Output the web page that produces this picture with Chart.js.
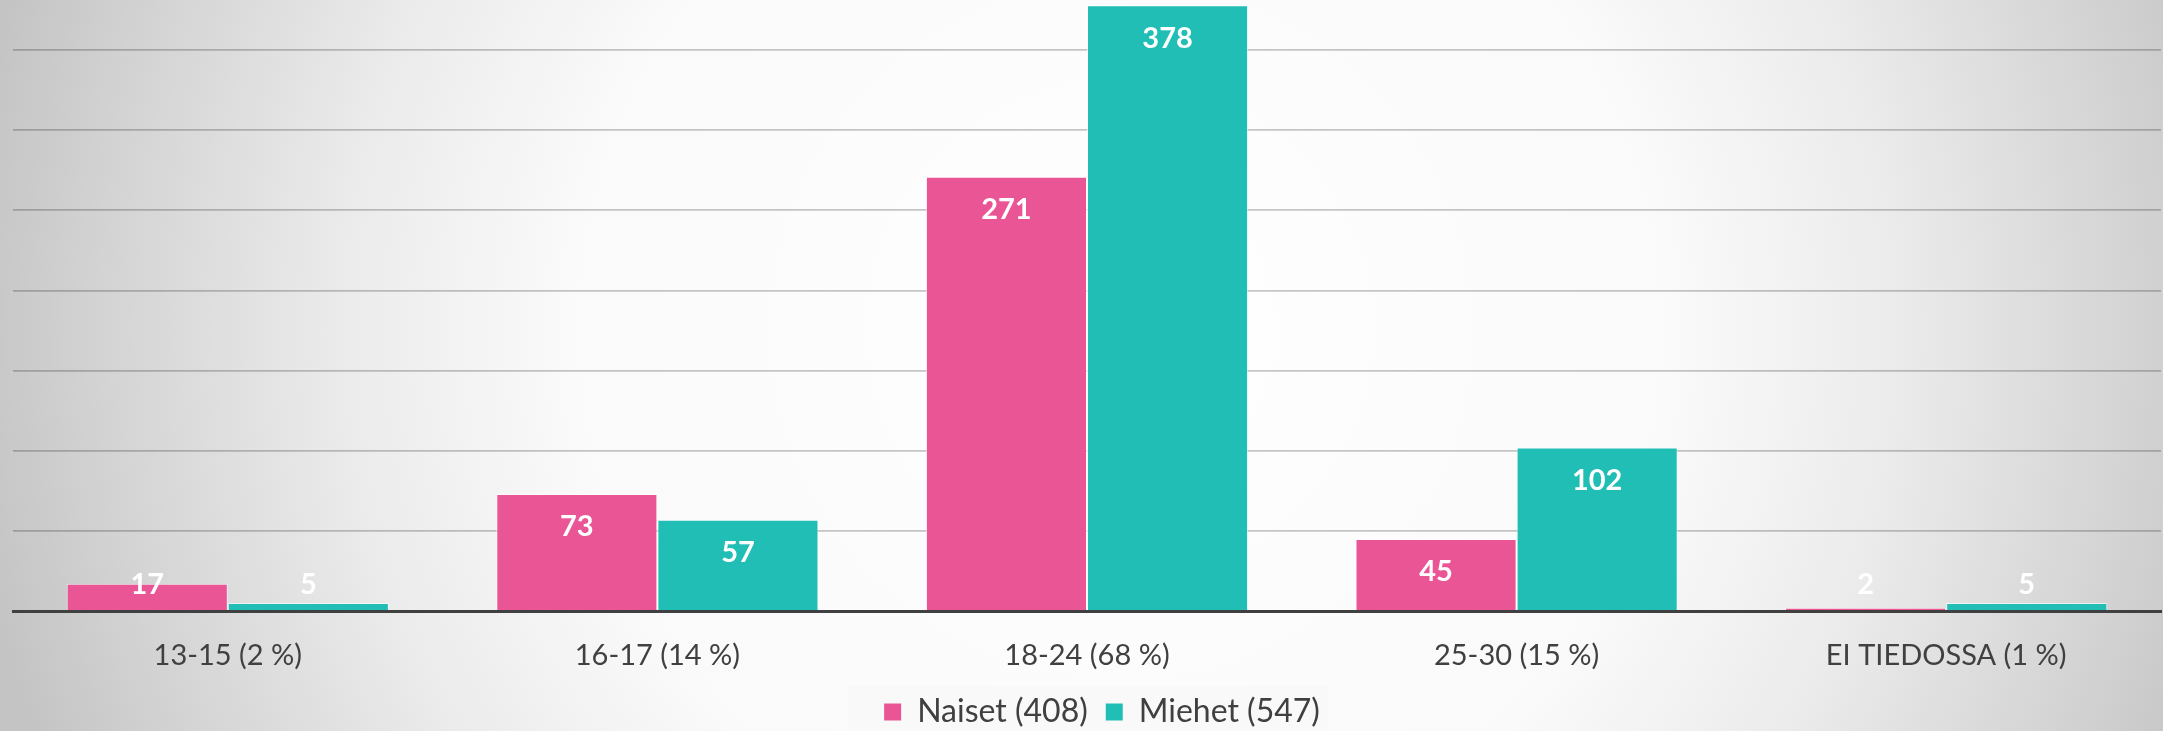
<!DOCTYPE html>
<html>
<head>
<meta charset="utf-8">
<script src="https://cdn.jsdelivr.net/npm/chart.js@4.4.0/dist/chart.umd.min.js"></script>
<style>
  html, body { margin: 0; padding: 0; }
  body {
    width: 2163px; height: 731px; overflow: hidden;
    background: radial-gradient(circle at 1120px 330px, #ffffff 0px, #fafafa 550px, #ebebeb 780px, #d3d3d3 1020px, #c4c4c4 1160px);
  }
  #wrap { width: 2163px; height: 738px; position: relative; }
</style>
</head>
<body>
<div id="wrap"><canvas id="chart"></canvas></div>
<script>
const categories = ['13-15 (2 %)', '16-17 (14 %)', '18-24 (68 %)', '25-30 (15 %)', 'EI TIEDOSSA (1 %)']
const naiset = [17, 73, 271, 45, 2]
const miehet = [5, 57, 378, 102, 5]
const seriesNames = ['Naiset (408)', 'Miehet (547)']
const gridTicks = [50, 100, 150, 200, 250, 300, 350]

const PINK = '#EA5596'
const TEAL = '#21BEB6'
const FONT = 'Lato, "Open Sans", sans-serif'

// value labels, white bold, just below the top of each bar
const valueLabels = {
  id: 'valueLabels',
  afterDatasetsDraw(chart) {
    const ctx = chart.ctx
    const floor = chart.chartArea.bottom - 26
    ctx.save()
    ctx.fillStyle = '#ffffff'
    ctx.font = 'bold 29px ' + FONT
    ctx.textAlign = 'center'
    ctx.textBaseline = 'middle'
    chart.data.datasets.forEach((ds, i) => {
      chart.getDatasetMeta(i).data.forEach((bar, j) => {
        let y = Math.min(bar.y + 33, floor)
        ctx.fillText(ds.data[j], bar.x, y)
      })
    })
    ctx.restore()
  }
}

// nudge legend a bit right and put a light box behind it
const legendBox = {
  id: 'legendBox',
  afterLayout(chart) {
    const lg = chart.legend
    if (!lg) return
    lg.left += 15
    lg.right += 15
    lg.legendHitBoxes.forEach(b => { b.left += 15 })
  },
  beforeDraw(chart) {
    const lg = chart.legend
    if (!lg || !lg.legendHitBoxes.length) return
    const boxes = lg.legendHitBoxes
    let l = Math.min(...boxes.map(b => b.left)) - 36
    let r = Math.max(...boxes.map(b => b.left + b.width)) + 8
    let t = boxes[0].top + boxes[0].height / 2 - 26
    const ctx = chart.ctx
    ctx.save()
    ctx.fillStyle = 'rgba(248,248,248,0.9)'
    ctx.fillRect(l, t, r - l, chart.height - t)
    ctx.restore()
  }
}

new Chart(document.getElementById('chart'), {
  type: 'bar',
  data: {
    labels: categories,
    datasets: [
      { label: seriesNames[0], data: naiset, backgroundColor: PINK, borderColor: 'rgba(255,255,255,0.6)', borderWidth: 1 },
      { label: seriesNames[1], data: miehet, backgroundColor: TEAL, borderColor: 'rgba(255,255,255,0.6)', borderWidth: 1 }
    ]
  },
  options: {
    responsive: true,
    maintainAspectRatio: false,
    animation: false,
    events: [],
    layout: { padding: { left: 13, right: 2, top: 2, bottom: 0 } },
    datasets: { bar: { categoryPercentage: 0.75, barPercentage: 1 } },
    scales: {
      x: {
        grid: { display: false, drawTicks: false },
        border: { display: true, color: '#404040', width: 3, z: 1 },
        ticks: { color: '#404040', font: { family: FONT, size: 29 }, padding: 27 },
        afterFit(axis) { axis.height = 67 }
      },
      y: {
        min: 0,
        max: 380,
        afterBuildTicks(axis) { axis.ticks = [0].concat(gridTicks).concat([380]).map(v => ({ value: v })) },
        grid: {
          drawTicks: false,
          color: c => gridTicks.includes(c.tick.value) ? 'rgba(0,0,0,0.22)' : 'transparent',
          lineWidth: 1.8
        },
        border: { display: false },
        ticks: { display: false }
      }
    },
    plugins: {
      tooltip: { enabled: false },
      legend: {
        position: 'bottom',
        labels: {
          color: '#404040',
          font: { family: FONT, size: 32 },
          boxWidth: 17,
          boxHeight: 17,
          padding: 18,
          generateLabels(chart) {
            return chart.data.datasets.map((ds, i) => ({
              text: ds.label, fillStyle: ds.backgroundColor, strokeStyle: ds.backgroundColor,
              lineWidth: 0, datasetIndex: i, fontColor: '#404040'
            }))
          }
        }
      }
    }
  },
  plugins: [legendBox, valueLabels]
})
</script>
</body>
</html>
